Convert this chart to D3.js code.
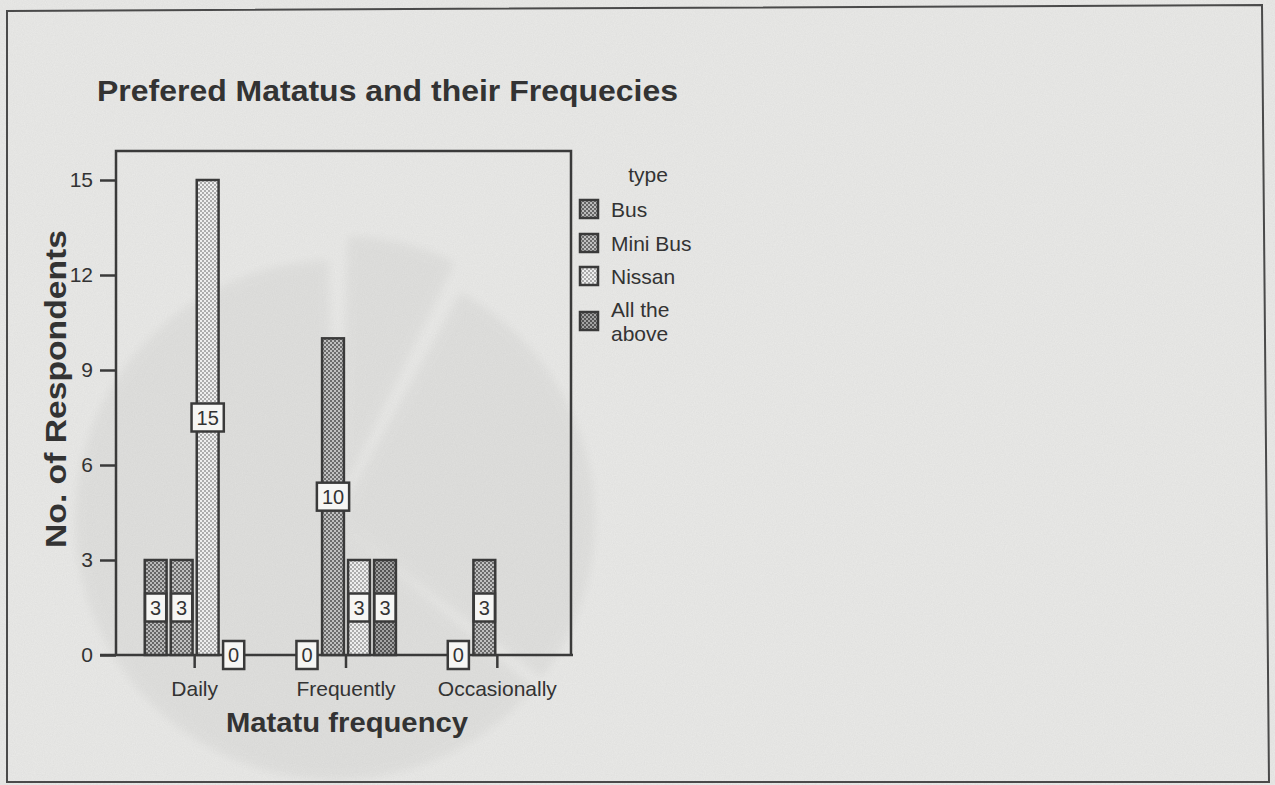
<!DOCTYPE html>
<html>
<head>
<meta charset="utf-8">
<script src="https://cdn.jsdelivr.net/npm/d3@7"></script>
<style>
  html, body { margin: 0; padding: 0; background: #eaeae8; }
  svg { display: block; }
  text { font-family: "Liberation Sans", Arial, sans-serif; fill: #333; }
</style>
</head>
<body>
<svg id="chart" width="1275" height="785"></svg>
<script>
// Respondent counts by how often matatus are used, split by preferred matatu type
const categories = ["Daily", "Frequently", "Occasionally"];
const types = ["Bus", "Mini Bus", "Nissan", "All the above"];
const busCounts = [3, 0, 0];
const miniBusCounts = [3, 10, 3];
const nissanCounts = [15, 3, null];
const allAboveCounts = [0, 3, null];
const yTicks = [0, 3, 6, 9, 12, 15];

const seriesValues = [busCounts, miniBusCounts, nissanCounts, allAboveCounts];
const rows = [];
categories.forEach((c, ci) => {
  types.forEach((t, ti) => {
    const v = seriesValues[ti][ci];
    if (v !== null) rows.push({ category: c, type: t, value: v });
  });
});

// stretch a text run horizontally to a given length
function setLength(sel, len) {
  sel.attr("textLength", len).attr("lengthAdjust", "spacingAndGlyphs");
}

const svg = d3.select("#chart");
const defs = svg.append("defs");

// paper grain
const grain = defs.append("filter").attr("id", "grain")
  .attr("x", 0).attr("y", 0).attr("width", "100%").attr("height", "100%");
grain.append("feTurbulence").attr("type", "fractalNoise")
  .attr("baseFrequency", 0.9).attr("numOctaves", 2).attr("seed", 4);
grain.append("feColorMatrix").attr("type", "matrix")
  .attr("values", "0 0 0 0 0.3  0 0 0 0 0.3  0 0 0 0 0.3  0 0 0 0.5 0");

const soft = defs.append("filter").attr("id", "soft")
  .attr("x", "-20%").attr("y", "-20%").attr("width", "140%").attr("height", "140%");
soft.append("feGaussianBlur").attr("stdDeviation", 5);

// dotted fills for each type
const fills = {
  "Bus":           { bg: "#666666", dot: "#bababa" },
  "Mini Bus":      { bg: "#6c6c6c", dot: "#c0c0c0" },
  "Nissan":        { bg: "#acacac", dot: "#eeeeee" },
  "All the above": { bg: "#555555", dot: "#a3a3a3" }
};
types.forEach((t, i) => {
  const p = defs.append("pattern").attr("id", "pat" + i)
    .attr("patternUnits", "userSpaceOnUse").attr("width", 4).attr("height", 4);
  p.append("rect").attr("width", 4).attr("height", 4).attr("fill", fills[t].bg);
  p.append("rect").attr("x", 0).attr("y", 0).attr("width", 2).attr("height", 2).attr("fill", fills[t].dot);
  p.append("rect").attr("x", 2).attr("y", 2).attr("width", 2).attr("height", 2).attr("fill", fills[t].dot);
});
const fillOf = t => `url(#pat${types.indexOf(t)})`;

// page background
svg.append("rect").attr("width", 1275).attr("height", 785).attr("fill", "#eaeae8");

// faint print-through from the reverse side of the page
const ghost = svg.append("g").attr("filter", "url(#soft)").attr("opacity", 0.035);
const ghostArc = d3.arc().innerRadius(0).outerRadius(260);
const ghostPie = d3.pie().sort(null).padAngle(0.05)([7, 28, 65]);
ghost.selectAll("path").data(ghostPie).join("path")
  .attr("transform", (d, i) => {
    const a = (d.startAngle + d.endAngle) / 2;
    const off = i === 0 ? 25 : 0;
    return `translate(${335 + Math.sin(a) * off},${520 - Math.cos(a) * off})`;
  })
  .attr("d", ghostArc).attr("fill", "#000");

svg.append("rect").attr("width", 1275).attr("height", 785)
  .attr("filter", "url(#grain)").attr("opacity", 0.25);

// page frame
svg.append("path")
  .attr("d", "M7,11 L1262,5 L1269,782 L7,782 Z")
  .attr("fill", "none").attr("stroke", "#4a4a4a").attr("stroke-width", 2);

// plot area
const plotLeft = 116, plotRight = 571, plotTop = 151, plotBottom = 655;

const x = d3.scaleBand().domain(categories).range([119, 573]);
const xInner = d3.scaleBand().domain(types).range([-52, 52])
  .paddingInner(0.16).paddingOuter(0.08);
const y = d3.scaleLinear().domain([0, 15]).range([plotBottom, 180]);

const ink = "#3a3a3a";

// frame around plot
svg.append("path")
  .attr("d", `M${plotLeft},${plotBottom} L${plotLeft},${plotTop} L${plotRight},${plotTop} L${plotRight},${plotBottom}`)
  .attr("fill", "none").attr("stroke", ink).attr("stroke-width", 2.5);

// y axis
const yAxis = svg.append("g").attr("transform", `translate(${plotLeft},0)`)
  .call(d3.axisLeft(y).tickValues(yTicks).tickSize(16).tickPadding(7).tickFormat(d3.format("d")));
yAxis.select(".domain").remove();
yAxis.selectAll("line").attr("stroke", ink).attr("stroke-width", 2.5);
yAxis.selectAll("text").attr("font-size", 21).attr("fill", "#333");

// x axis
svg.append("line").attr("x1", 100).attr("x2", 573).attr("y1", plotBottom).attr("y2", plotBottom)
  .attr("stroke", ink).attr("stroke-width", 2.5);
const xAxis = svg.append("g").attr("transform", `translate(0,${plotBottom})`)
  .call(d3.axisBottom(x).tickSize(13).tickPadding(13));
xAxis.select(".domain").remove();
xAxis.selectAll("line").attr("stroke", ink).attr("stroke-width", 2.5);
xAxis.selectAll("text").attr("font-size", 21).attr("fill", "#333");

// bars
const barX = d => x(d.category) + x.bandwidth() / 2 + xInner(d.type);
svg.append("g").selectAll("rect").data(rows.filter(d => d.value > 0)).join("rect")
  .attr("x", barX)
  .attr("y", d => y(d.value))
  .attr("width", xInner.bandwidth())
  .attr("height", d => y(0) - y(d.value))
  .attr("fill", d => fillOf(d.type))
  .attr("stroke", ink).attr("stroke-width", 2.5);

// value labels in boxes, centred on each bar
const labels = svg.append("g").selectAll("g").data(rows).join("g")
  .attr("transform", d => `translate(${barX(d) + xInner.bandwidth() / 2},${y(d.value / 2)})`);
labels.append("text")
  .attr("text-anchor", "middle").attr("dy", "0.36em")
  .attr("font-size", 20).text(d => d.value);
labels.each(function () {
  const g = d3.select(this);
  const w = g.select("text").node().getComputedTextLength() + 10;
  g.insert("rect", "text")
    .attr("x", -w / 2).attr("y", -14).attr("width", w).attr("height", 28)
    .attr("fill", "#f6f6f4").attr("stroke", ink).attr("stroke-width", 2.5);
});

// title and axis titles
svg.append("text").attr("x", 97).attr("y", 101)
  .attr("font-size", 30).attr("font-weight", "bold")
  .text("Prefered Matatus and their Frequecies")
  .call(setLength, 581);
svg.append("text").attr("transform", "translate(66,389) rotate(-90)")
  .attr("text-anchor", "middle").attr("font-size", 30).attr("font-weight", "bold")
  .text("No. of Respondents")
  .call(setLength, 318);
svg.append("text").attr("x", 347).attr("y", 732)
  .attr("text-anchor", "middle").attr("font-size", 28).attr("font-weight", "bold")
  .text("Matatu frequency")
  .call(setLength, 242);

// legend
const legend = svg.append("g");
legend.append("text").attr("x", 648).attr("y", 182).attr("text-anchor", "middle")
  .attr("font-size", 21).text("type");
const legendRows = [
  { type: "Bus", lines: ["Bus"], cy: 209 },
  { type: "Mini Bus", lines: ["Mini Bus"], cy: 243 },
  { type: "Nissan", lines: ["Nissan"], cy: 276 },
  { type: "All the above", lines: ["All the", "above"], cy: 321 }
];
const li = legend.selectAll("g.item").data(legendRows).join("g").attr("class", "item");
li.append("rect")
  .attr("x", 580).attr("y", d => d.cy - 9).attr("width", 18).attr("height", 18)
  .attr("fill", d => fillOf(d.type)).attr("stroke", ink).attr("stroke-width", 2.5);
li.each(function (d) {
  const g = d3.select(this);
  const n = d.lines.length;
  d.lines.forEach((s, k) => {
    g.append("text").attr("x", 611)
      .attr("y", d.cy + (k - (n - 1) / 2) * 24).attr("dy", "0.36em")
      .attr("font-size", 21).text(s);
  });
});
</script>
</body>
</html>
